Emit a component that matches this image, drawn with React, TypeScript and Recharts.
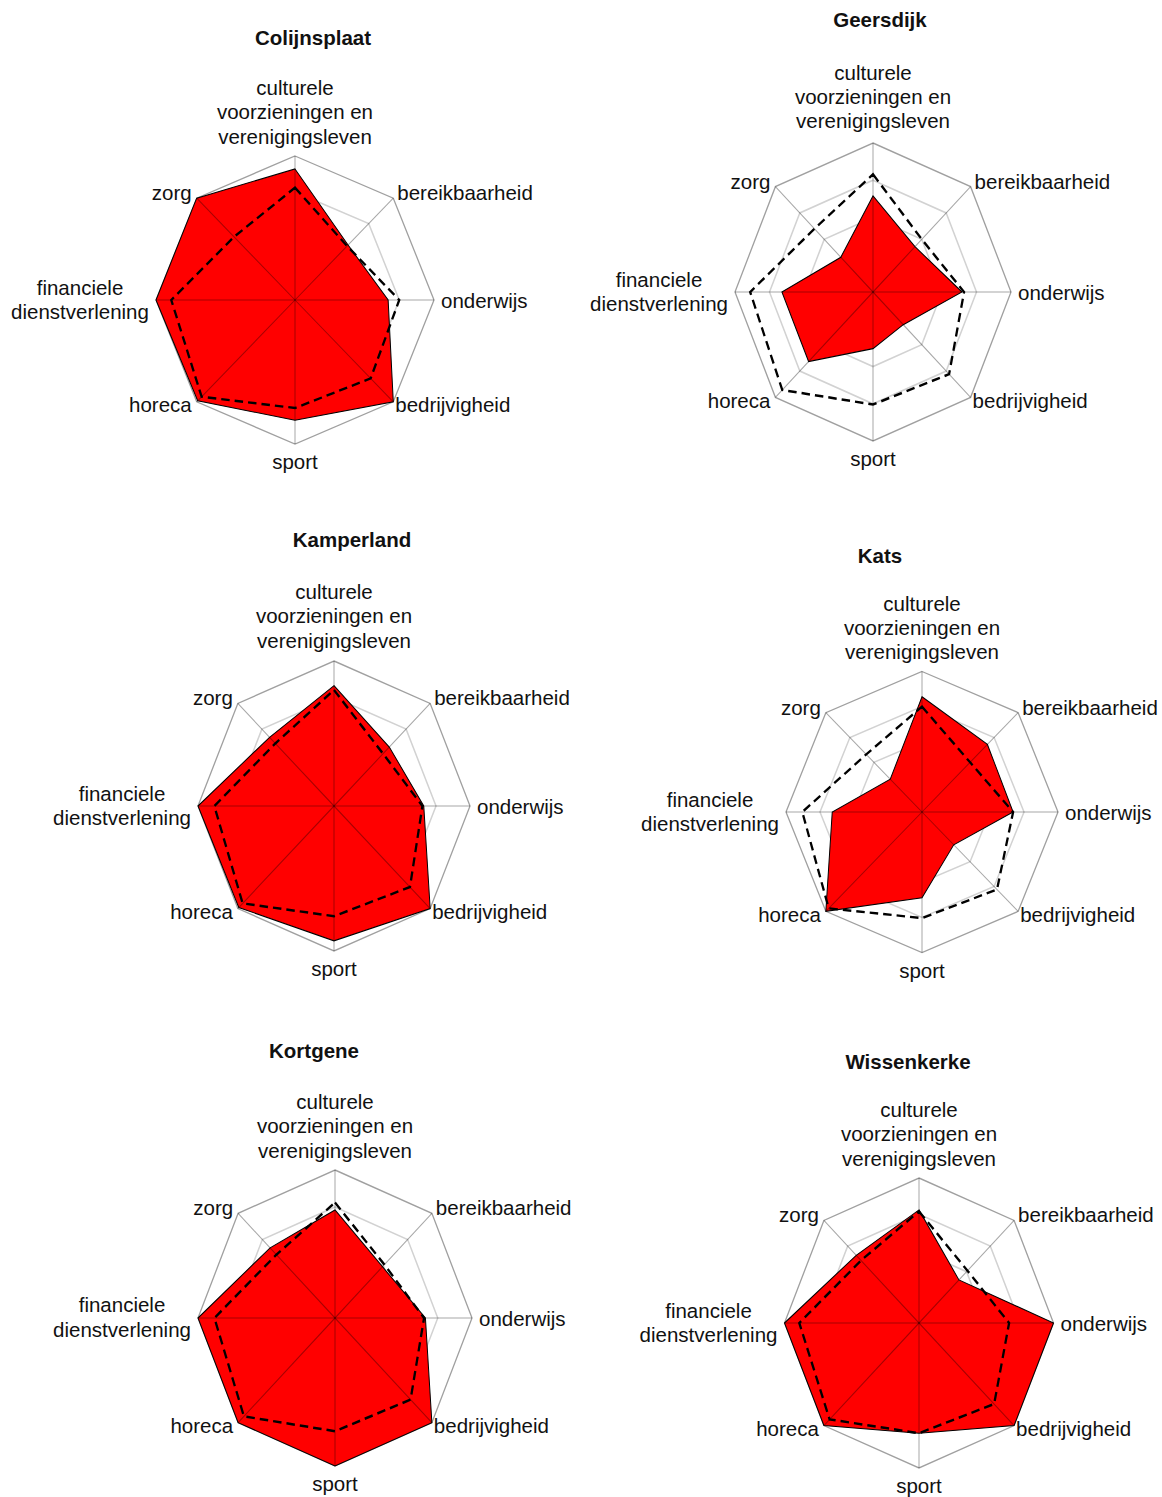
import React from 'react';
import { RadarChart, Radar, PolarGrid, PolarAngleAxis, PolarRadiusAxis } from 'recharts';

// ---- data ----
const axisNames = [
  'culturele voorzieningen en verenigingsleven',
  'bereikbaarheid',
  'onderwijs',
  'bedrijvigheid',
  'sport',
  'horeca',
  'financiele dienstverlening',
  'zorg',
];
const axisLabelLines = [
  ['culturele', 'voorzieningen en', 'verenigingsleven'],
  ['bereikbaarheid'],
  ['onderwijs'],
  ['bedrijvigheid'],
  ['sport'],
  ['horeca'],
  ['financiele', 'dienstverlening'],
  ['zorg'],
];

const colijnsplaatScore = [0.91, 0.54, 0.67, 1.0, 0.835, 0.99, 1.0, 1.0];
const colijnsplaatRef = [0.78, 0.53, 0.75, 0.77, 0.75, 0.95, 0.89, 0.62];
const geersdijkScore = [0.645, 0.43, 0.645, 0.31, 0.38, 0.66, 0.66, 0.33];
const geersdijkRef = [0.79, 0.5, 0.66, 0.78, 0.755, 0.93, 0.89, 0.6];
const kamperlandScore = [0.83, 0.575, 0.66, 1.0, 0.93, 0.99, 1.0, 0.67];
const kamperlandRef = [0.8, 0.51, 0.65, 0.79, 0.76, 0.95, 0.88, 0.61];
const katsScore = [0.82, 0.68, 0.67, 0.33, 0.61, 1.0, 0.66, 0.33];
const katsRef = [0.75, 0.5, 0.67, 0.78, 0.755, 0.97, 0.88, 0.58];
const kortgeneScore = [0.73, 0.49, 0.66, 1.0, 1.0, 1.0, 1.0, 0.67];
const kortgeneRef = [0.78, 0.51, 0.65, 0.78, 0.765, 0.94, 0.88, 0.605];
const wissenkerkeScore = [0.78, 0.42, 1.0, 1.0, 0.76, 1.0, 1.0, 0.66];
const wissenkerkeRef = [0.77, 0.51, 0.67, 0.79, 0.76, 0.94, 0.89, 0.61];

const places = [
  { name: 'Colijnsplaat', score: colijnsplaatScore, ref: colijnsplaatRef },
  { name: 'Geersdijk', score: geersdijkScore, ref: geersdijkRef },
  { name: 'Kamperland', score: kamperlandScore, ref: kamperlandRef },
  { name: 'Kats', score: katsScore, ref: katsRef },
  { name: 'Kortgene', score: kortgeneScore, ref: kortgeneRef },
  { name: 'Wissenkerke', score: wissenkerkeScore, ref: wissenkerkeRef },
];

// ---- layout (page coordinates) ----
const layout = [
  { cx: 295.2, cy: 300, rx: 139, ry: 144, tx: 313, ty: 38, lift: 0 },
  { cx: 872.6, cy: 292.3, rx: 138, ry: 149, tx: 880, ty: 20, lift: 2.5 },
  { cx: 334.3, cy: 805.7, rx: 136, ry: 145, tx: 352, ty: 540, lift: 1 },
  { cx: 921.7, cy: 812.3, rx: 136, ry: 140.5, tx: 880, ty: 556, lift: 0 },
  { cx: 335.2, cy: 1318.3, rx: 137, ry: 148, tx: 314, ty: 1051, lift: 0 },
  { cx: 918.9, cy: 1322.7, rx: 134.5, ry: 145, tx: 908, ty: 1062, lift: 0 },
];

const FONT = '"Liberation Sans", Arial, sans-serif';
const FS = 20.5;
const W = 620;
const H = 600;
const CX = 310;
const CY = 310;

// label placement relative to each axis end point (screen px)
const labelStyle: { anchor: 'start' | 'middle' | 'end'; ox: number; ys: number[] }[] = [
  { anchor: 'middle', ox: 0, ys: [-61, -37, -12.5] },
  { anchor: 'start', ox: 4, ys: [2] },
  { anchor: 'start', ox: 7, ys: [8] },
  { anchor: 'start', ox: 2, ys: [10.5] },
  { anchor: 'middle', ox: 0, ys: [25] },
  { anchor: 'end', ox: -5, ys: [10.5] },
  { anchor: 'middle', ox: -76, ys: [-5.5, 19] },
  { anchor: 'end', ox: -5, ys: [2] },
];

function makeTick(r: number, k: number, lift: number) {
  return (props: any) => {
    const { x, y, index } = props;
    const dx = x - CX;
    const dy = y - CY;
    const d = Math.sqrt(dx * dx + dy * dy) || 1;
    const vx = CX + (dx * r) / d;
    const vy = CY + (dy * r) / d;
    const st = labelStyle[index] || labelStyle[0];
    const lines = axisLabelLines[index] || [String(props.payload?.value ?? '')];
    const extra = index === 0 ? -lift : 0;
    return (
      <g transform={`translate(${vx},${vy}) scale(1,${1 / k})`}>
        <text textAnchor={st.anchor} fontFamily={FONT} fontSize={FS} fill="#111">
          {lines.map((l, i) => (
            <tspan key={i} x={st.ox} y={st.ys[i] + extra}>
              {l}
            </tspan>
          ))}
        </text>
      </g>
    );
  };
}

function PlaceRadar({ place, lay }: any) {
  const rows = axisNames.map((a, i) => ({ axis: a, score: place.score[i], ref: place.ref[i] }));
  const r = lay.rx;
  const k = lay.ry / lay.rx;
  return (
    <>
      <div
        style={{
          position: 'absolute',
          left: lay.cx - CX,
          top: lay.cy - CY,
          width: W,
          height: H,
          transform: `scale(1, ${k})`,
          transformOrigin: `${CX}px ${CY}px`,
        }}
      >
        <RadarChart
          width={W}
          height={H}
          data={rows}
          cx={CX}
          cy={CY}
          outerRadius={r}
          startAngle={90}
          endAngle={-270}
          margin={{ top: 0, right: 0, bottom: 0, left: 0 }}
        >
          <PolarGrid
            gridType="polygon"
            radialLines={false}
            polarRadius={[r * 0.25, r * 0.5, r * 0.75]}
            stroke="#d2d2d2"
            strokeWidth={1.5}
          />
          <PolarGrid gridType="polygon" radialLines={false} polarRadius={[r]} stroke="#a0a0a0" strokeWidth={1.3} />
          <PolarRadiusAxis domain={[0, 1]} tick={false} axisLine={false} tickCount={5} />
          <PolarAngleAxis dataKey="axis" tick={makeTick(r, k, lay.lift)} tickLine={false} axisLine={false} />
          <Radar
            dataKey="score"
            fill="#ff0000"
            fillOpacity={1}
            stroke="#000000"
            strokeWidth={1}
            isAnimationActive={false}
          />
          <Radar
            dataKey="ref"
            fill="none"
            fillOpacity={0}
            stroke="#000000"
            strokeWidth={2.3}
            strokeDasharray="8.5 5"
            isAnimationActive={false}
          />
          <PolarGrid
            gridType="polygon"
            radialLines={true}
            polarRadius={[]}
            stroke="#000000"
            strokeOpacity={0.35}
            strokeWidth={1}
            zIndex={1000}
          />
        </RadarChart>
      </div>
      <div
        style={{
          position: 'absolute',
          left: lay.tx - 150,
          top: lay.ty - 13,
          width: 300,
          height: 26,
          lineHeight: '26px',
          textAlign: 'center',
          fontFamily: FONT,
          fontWeight: 'bold',
          fontSize: FS,
          color: '#111',
        }}
      >
        {place.name}
      </div>
    </>
  );
}

export default function App() {
  return (
    <div
      style={{
        position: 'absolute',
        left: 0,
        top: 0,
        width: 1162,
        height: 1497,
        overflow: 'hidden',
        background: '#ffffff',
      }}
    >
      {places.map((p, i) => (
        <PlaceRadar key={p.name} place={p} lay={layout[i]} />
      ))}
    </div>
  );
}
